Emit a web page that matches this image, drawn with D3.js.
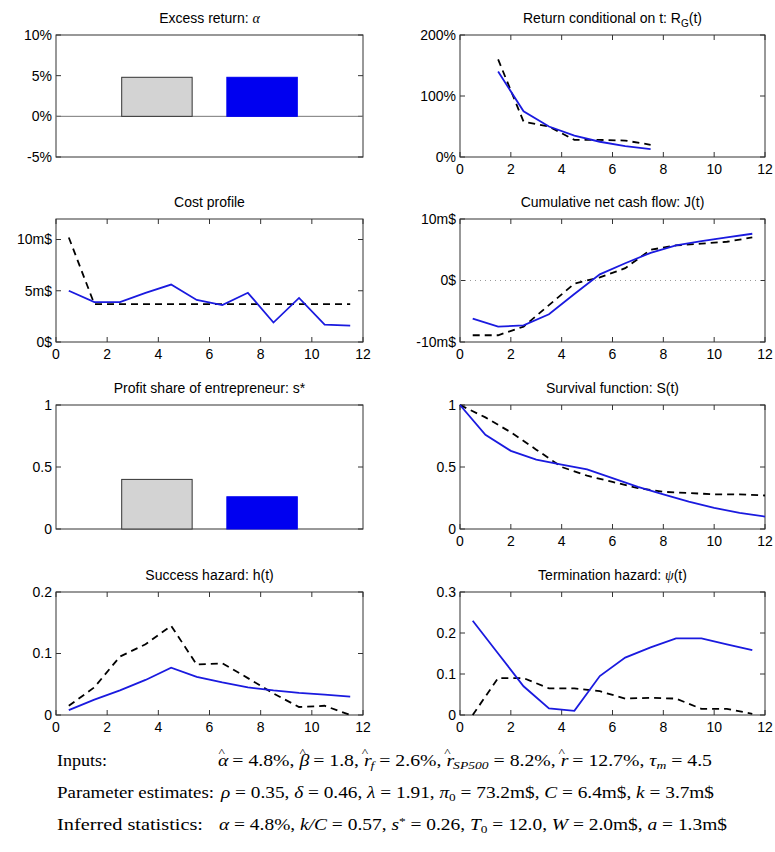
<!DOCTYPE html>
<html><head><meta charset="utf-8">
<script src="https://cdn.jsdelivr.net/npm/d3@7"></script>
<style>
body{margin:0;background:#fff}
text{font-family:"Liberation Sans",Arial,sans-serif}
.note{font-family:"Liberation Serif","DejaVu Serif",serif;font-size:16px}
</style></head><body>
<svg id="c" width="775" height="852"></svg>
<script>
const tHalf = [0.5,1.5,2.5,3.5,4.5,5.5,6.5,7.5,8.5,9.5,10.5,11.5];
const tInt = [0,1,2,3,4,5,6,7,8,9,10,11,12];
const tReturn = [1.5,2.5,3.5,4.5,5.5,6.5,7.5];

const alphaBars = [4.8, 4.8];
const shareBars = [0.40, 0.26];

const returnModel = [140,75,50,35,25,18,13];
const returnData = [160,58,50,28,28,27,20];
const costModel = [5.0,3.9,3.9,4.8,5.6,4.1,3.6,4.8,1.9,4.3,1.7,1.6];
const costData = [10.2,3.7,3.7,3.7,3.7,3.7,3.7,3.7,3.7,3.7,3.7,3.7];
const cashModel = [-6.2,-7.5,-7.3,-5.5,-2.2,1.0,2.8,4.5,5.7,6.4,7.0,7.6];
const cashData = [-8.9,-8.9,-7.5,-4.0,-0.5,0.5,2.0,5.0,5.7,6.0,6.3,7.0];
const survModel = [1,0.76,0.63,0.56,0.52,0.48,0.41,0.34,0.28,0.22,0.17,0.13,0.10];
const survData = [1,0.90,0.78,0.64,0.50,0.43,0.38,0.33,0.30,0.29,0.28,0.28,0.27];
const hazModel = [0.008,0.025,0.04,0.057,0.077,0.062,0.053,0.045,0.04,0.036,0.033,0.030];
const hazData = [0.015,0.045,0.095,0.115,0.145,0.082,0.084,0.060,0.035,0.013,0.015,0.0];
const termModel = [0.23,0.15,0.07,0.016,0.01,0.095,0.14,0.165,0.187,0.187,0.172,0.158];
const termData = [0.0,0.09,0.09,0.065,0.065,0.058,0.04,0.042,0.04,0.015,0.015,0.003];

const svg = d3.select("#c");
const cols = [[56,363],[460,765]];
const rows = [[35,157],[219,342],[405,529],[592,715]];

function panel(col,row,title,yDom,yTicks,yFmt,xAxis){
  const [x0,x1]=cols[col],[y0,y1]=rows[row];
  const g=svg.append("g");
  const x=d3.scaleLinear().domain([0,12]).range([x0,x1]);
  const y=d3.scaleLinear().domain(yDom).range([y1,y0]);
  g.append("rect").attr("x",x0).attr("y",y0).attr("width",x1-x0).attr("height",y1-y0)
    .attr("fill","none").attr("stroke","#333");
  const tl=5;
  yTicks.forEach(v=>{
    g.append("line").attr("x1",x0).attr("x2",x0+tl).attr("y1",y(v)).attr("y2",y(v)).attr("stroke","#333");
    g.append("line").attr("x1",x1).attr("x2",x1-tl).attr("y1",y(v)).attr("y2",y(v)).attr("stroke","#333");
    g.append("text").attr("x",x0-4).attr("y",y(v)).attr("dy","0.35em").attr("text-anchor","end")
      .attr("font-size",14).text(yFmt(v));
  });
  if(xAxis){
    d3.range(0,13,2).forEach(v=>{
      g.append("line").attr("x1",x(v)).attr("x2",x(v)).attr("y1",y1).attr("y2",y1-tl).attr("stroke","#333");
      g.append("line").attr("x1",x(v)).attr("x2",x(v)).attr("y1",y0).attr("y2",y0+tl).attr("stroke","#333");
      g.append("text").attr("x",x(v)).attr("y",y1+17).attr("text-anchor","middle").attr("font-size",14).text(v);
    });
  }
  const tt=g.append("text").attr("x",(x0+x1)/2).attr("y",y0-12).attr("text-anchor","middle").attr("font-size",14);
  title(tt);
  return {g,x,y};
}
function line(p,xs,ys,dashed){
  const l=d3.line().x((d,i)=>p.x(xs[i])).y(d=>p.y(d));
  p.g.append("path").attr("d",l(ys)).attr("fill","none")
    .attr("stroke",dashed?"#000":"#1a1adf").attr("stroke-width",1.8)
    .attr("stroke-dasharray",dashed?"7,5":null);
}
function bars(p,vals){
  const b=d3.scaleBand().domain(["data","model"]).range([p.x(12*0.214),p.x(12*0.786)]).paddingInner(0.33);
  p.g.selectAll("rect.bar").data(vals).enter().append("rect").attr("class","bar")
    .attr("x",(d,i)=>b(i?"model":"data")).attr("width",b.bandwidth())
    .attr("y",d=>p.y(d)).attr("height",d=>p.y(0)-p.y(d))
    .attr("fill",(d,i)=>i?"#0000f0":"#d3d3d3").attr("stroke",(d,i)=>i?"#0000f0":"#333");
}
const pct=v=>v+"%";

let p=panel(0,0,t=>t.text("Excess return: ").append("tspan").attr("font-family","Liberation Serif").attr("font-style","italic").text("α"),
  [-5,10],[-5,0,5,10],pct,false);
p.g.append("line").attr("x1",cols[0][0]).attr("x2",cols[0][1]).attr("y1",p.y(0)).attr("y2",p.y(0)).attr("stroke","#777");
bars(p,alphaBars);

p=panel(1,0,t=>{t.text("Return conditional on t: R");t.append("tspan").attr("font-size",10).attr("dy",4).text("G");t.append("tspan").attr("dy",-4).text("(t)");},
  [0,200],[0,100,200],pct,true);
line(p,tReturn,returnData,true);line(p,tReturn,returnModel,false);

p=panel(0,1,t=>t.text("Cost profile"),[0,12],[0,5,10],v=>v+(v?"m$":"$"),true);
line(p,tHalf,costData,true);line(p,tHalf,costModel,false);

p=panel(1,1,t=>t.text("Cumulative net cash flow: J(t)"),[-10,10],[-10,0,10],v=>v+(v?"m$":"$"),true);
p.g.append("line").attr("x1",cols[1][0]).attr("x2",cols[1][1]).attr("y1",p.y(0)).attr("y2",p.y(0))
  .attr("stroke","#999").attr("stroke-dasharray","1,4");
line(p,tHalf,cashData,true);line(p,tHalf,cashModel,false);

p=panel(0,2,t=>t.text("Profit share of entrepreneur: s*"),[0,1],[0,0.5,1],v=>v,false);
bars(p,shareBars);

p=panel(1,2,t=>t.text("Survival function: S(t)"),[0,1],[0,0.5,1],v=>v,true);
line(p,tInt,survData,true);line(p,tInt,survModel,false);

p=panel(0,3,t=>t.text("Success hazard: h(t)"),[0,0.2],[0,0.1,0.2],v=>v,true);
line(p,tHalf,hazData,true);line(p,tHalf,hazModel,false);

p=panel(1,3,t=>{t.text("Termination hazard: ");t.append("tspan").attr("font-family","Liberation Serif").attr("font-style","italic").text("ψ");t.append("tspan").text("(t)");},
  [0,0.3],[0,0.1,0.2,0.3],v=>v,true);
line(p,tHalf,termData,true);line(p,tHalf,termModel,false);

// notes: [label, y, label width, expr start, expr end, parts]
const notes=[
  ["Inputs:",766,50,218,712,[["α","h"]," = 4.8%, ",["β","h"]," = 1.8, ",["r","h"],["f","s"]," = 2.6%, ",["r","h"],["SP500","s"]," = 8.2%, ",["r","h"]," = 12.7%, ",["τ","i"],["m","s"]," = 4.5"]],
  ["Parameter estimates:",798,157,221,714,[["ρ","i"]," = 0.35, ",["δ","i"]," = 0.46, ",["λ","i"]," = 1.91, ",["π","i"],["0","s0"]," = 73.2m$, ",["C","i"]," = 6.4m$, ",["k","i"]," = 3.7m$"]],
  ["Inferred statistics:",830,146,219,727,[["α","i"]," = 4.8%, ",["k/C","i"]," = 0.57, ",["s","i"],["*","p"]," = 0.26, ",["T","i"],["0","s0"]," = 12.0, ",["W","i"]," = 2.0m$, ",["a","i"]," = 1.3m$"]]
];
notes.forEach(([lab,yy,lw,xs,xe,parts])=>{
  svg.append("text").attr("class","note").attr("x",57).attr("y",yy)
    .attr("textLength",lw).attr("lengthAdjust","spacingAndGlyphs").text(lab);
  const t=svg.append("text").attr("class","note").attr("x",xs).attr("y",yy);
  let dxNext=0;
  const add=(s,yOff,size,italic)=>{
    const sp=t.append("tspan").attr("y",yy+yOff).text(s);
    if(size) sp.attr("font-size",size);
    if(italic) sp.attr("font-style","italic");
    if(dxNext){sp.attr("dx",dxNext);dxNext=0;}
    return sp;
  };
  parts.forEach(pt=>{
    if(typeof pt==="string"){add(pt,0);return;}
    const [s,f]=pt;
    if(f==="i") add(s,0,null,true);
    else if(f==="h"){add(s,0,null,true);add("^",-10,11).attr("dx",-8);dxNext=2;}
    else if(f==="s") add(s,3,11,true);
    else if(f==="s0") add(s,3,11);
    else if(f==="p") add(s,-5,11);
  });
  const w=t.node().getComputedTextLength();
  t.attr("textLength",xe-xs).attr("lengthAdjust","spacingAndGlyphs");
});
</script></body></html>
